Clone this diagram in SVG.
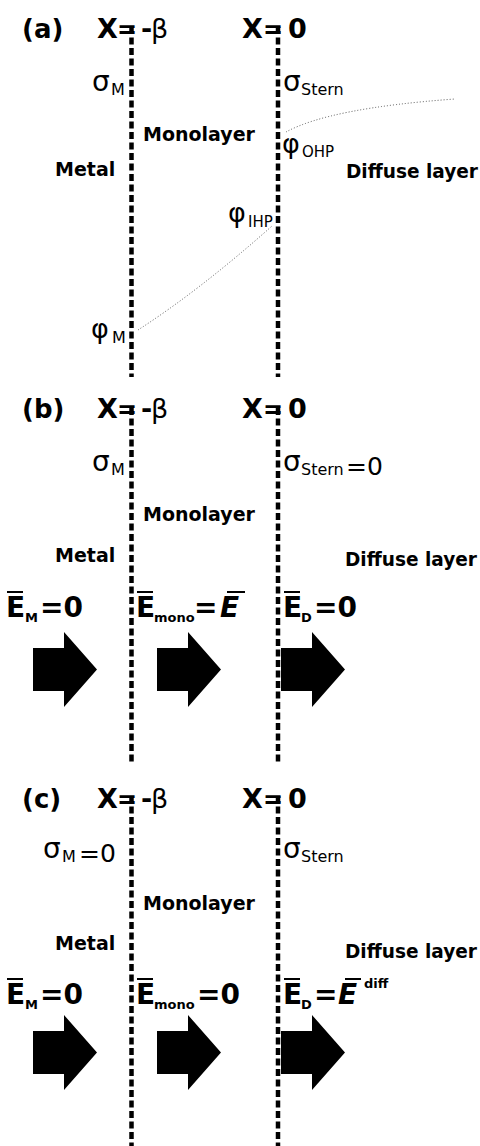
<svg xmlns="http://www.w3.org/2000/svg" width="480" height="1146" viewBox="0 0 480 1146">
<defs>
<style>
.b{font-family:"DejaVu Sans","Liberation Sans",sans-serif;font-weight:bold;fill:#000}
.r{font-family:"DejaVu Sans","Liberation Sans",sans-serif;fill:#000}
.bi{font-family:"DejaVu Sans","Liberation Sans",sans-serif;font-weight:bold;font-style:italic;fill:#000}
.ttl{font-size:26px}
.big{font-size:27px}
.lbl{font-size:19px}
.gr{font-size:28px}
.ph{font-size:27px}
.sub{font-size:16px}
.e{font-size:28px}
.es{font-size:13px}
.dl{stroke:#000;stroke-width:4.5;stroke-dasharray:7 3.5;fill:none}
.dot{stroke:#555;stroke-width:1;stroke-dasharray:1 2;fill:none}
.ob{stroke:#000;stroke-width:2}
</style>
<polygon id="arr" points="0,16 31,16 31,0 64,37.5 31,75 31,59 0,59" fill="#000"/>
</defs>
<rect width="480" height="1146" fill="#fff"/>

<g id="connectors">
<line class="dl" x1="131.5" y1="27" x2="131.5" y2="377"/>
<line class="dl" x1="278" y1="27" x2="278" y2="377"/>
<line class="dl" x1="131.5" y1="408" x2="131.5" y2="763"/>
<line class="dl" x1="278" y1="408" x2="278" y2="763"/>
<line class="dl" x1="131.5" y1="796" x2="131.5" y2="1146"/>
<line class="dl" x1="278" y1="796" x2="278" y2="1146"/>
<path class="dot" d="M286,132 Q330,108 455,99"/>
<path class="dot" d="M138,330 Q200,290 272,226"/>
</g>

<g id="panel-a">
<text class="b ttl" x="22" y="38">(a)</text>
<text class="b big" x="97" y="38">X</text>
<text class="b" x="117" y="38" font-size="24">=</text>
<text class="b big" x="141" y="38">-</text>
<text class="r big" x="151" y="38">β</text>
<text class="b big" x="242" y="38">X</text>
<text class="b" x="263" y="38" font-size="24">=</text>
<text class="b big" x="288" y="38">0</text>
<g id="sigmaM-a"><text class="r gr" x="92" y="91">σ</text><text class="r sub" x="111" y="95">M</text></g>
<g id="sigmaStern-a"><text class="r gr" x="283" y="91">σ</text><text class="r sub" x="301" y="95">Stern</text></g>
<text id="mono-a" class="b lbl" x="143" y="141">Monolayer</text>
<g id="phiOHP"><text class="r ph" x="282" y="153">φ</text><text class="r" font-size="15" x="302" y="157">OHP</text></g>
<text id="metal-a" class="b lbl" x="55" y="176">Metal</text>
<text id="diff-a" class="b lbl" x="346" y="178" textLength="132" lengthAdjust="spacingAndGlyphs">Diffuse layer</text>
<g id="phiIHP"><text class="r ph" x="228" y="222">φ</text><text class="r" font-size="15" x="248" y="227">IHP</text></g>
<g id="phiM"><text class="r ph" x="91" y="338">φ</text><text class="r sub" x="112" y="343">M</text></g>
</g>

<g id="panel-b">
<text class="b ttl" x="22" y="418">(b)</text>
<text class="b big" x="97" y="418">X</text>
<text class="b" x="117" y="418" font-size="24">=</text>
<text class="b big" x="141" y="418">-</text>
<text class="r big" x="151" y="418">β</text>
<text class="b big" x="242" y="418">X</text>
<text class="b" x="263" y="418" font-size="24">=</text>
<text class="b big" x="288" y="418">0</text>
<g id="sigmaM-b"><text class="r gr" x="92" y="471">σ</text><text class="r sub" x="111" y="475">M</text></g>
<g id="sigmaStern-b"><text class="r gr" x="283" y="471">σ</text><text class="r sub" x="301" y="475">Stern</text><text class="r" font-size="25" x="346" y="475">=0</text></g>
<text id="mono-b" class="b lbl" x="143" y="521">Monolayer</text>
<text id="metal-b" class="b lbl" x="55" y="562">Metal</text>
<text id="diff-b" class="b lbl" x="345" y="566" textLength="132" lengthAdjust="spacingAndGlyphs">Diffuse layer</text>
<g id="EM-b"><text class="b e" x="6" y="617">E</text><line class="ob" x1="7" y1="592" x2="23" y2="592"/><text class="b es" x="25" y="622">M</text><text class="b e" x="40" y="617">=0</text></g>
<g id="Emono-b"><text class="b e" x="136" y="617">E</text><line class="ob" x1="137" y1="592" x2="153" y2="592"/><text class="b es" x="154" y="622">mono</text><text class="b e" x="194" y="617">=</text><text class="bi e" x="220" y="617">E</text><line class="ob" x1="227" y1="592" x2="245" y2="592"/></g>
<g id="ED-b"><text class="b e" x="283" y="617">E</text><line class="ob" x1="284" y1="592" x2="300" y2="592"/><text class="b es" x="301" y="622">D</text><text class="b e" x="314" y="617">=0</text></g>
<use href="#arr" x="33" y="632"/>
<use href="#arr" x="157" y="632"/>
<use href="#arr" x="281" y="632"/>
</g>

<g id="panel-c">
<text class="b ttl" x="22" y="808">(c)</text>
<text class="b big" x="97" y="808">X</text>
<text class="b" x="117" y="808" font-size="24">=</text>
<text class="b big" x="141" y="808">-</text>
<text class="r big" x="151" y="808">β</text>
<text class="b big" x="242" y="808">X</text>
<text class="b" x="263" y="808" font-size="24">=</text>
<text class="b big" x="288" y="808">0</text>
<g id="sigmaM-c"><text class="r gr" x="43" y="858">σ</text><text class="r sub" x="62" y="862">M</text><text class="r" font-size="25" x="79" y="862">=0</text></g>
<g id="sigmaStern-c"><text class="r gr" x="283" y="858">σ</text><text class="r sub" x="301" y="862">Stern</text></g>
<text id="mono-c" class="b lbl" x="143" y="910">Monolayer</text>
<text id="metal-c" class="b lbl" x="55" y="950">Metal</text>
<text id="diff-c" class="b lbl" x="345" y="958" textLength="132" lengthAdjust="spacingAndGlyphs">Diffuse layer</text>
<g id="EM-c"><text class="b e" x="6" y="1004">E</text><line class="ob" x1="7" y1="979" x2="23" y2="979"/><text class="b es" x="25" y="1009">M</text><text class="b e" x="40" y="1004">=0</text></g>
<g id="Emono-c"><text class="b e" x="136" y="1004">E</text><line class="ob" x1="137" y1="979" x2="153" y2="979"/><text class="b es" x="154" y="1009">mono</text><text class="b e" x="197" y="1004">=0</text></g>
<g id="ED-c"><text class="b e" x="283" y="1004">E</text><line class="ob" x1="284" y1="979" x2="300" y2="979"/><text class="b es" x="301" y="1009">D</text><text class="b e" x="314" y="1004">=</text><text class="bi e" x="338" y="1004">E</text><line class="ob" x1="345" y1="979" x2="361" y2="979"/><text class="b es" x="364" y="988">diff</text></g>
<use href="#arr" x="33" y="1015"/>
<use href="#arr" x="157" y="1015"/>
<use href="#arr" x="281" y="1015"/>
</g>
</svg>
